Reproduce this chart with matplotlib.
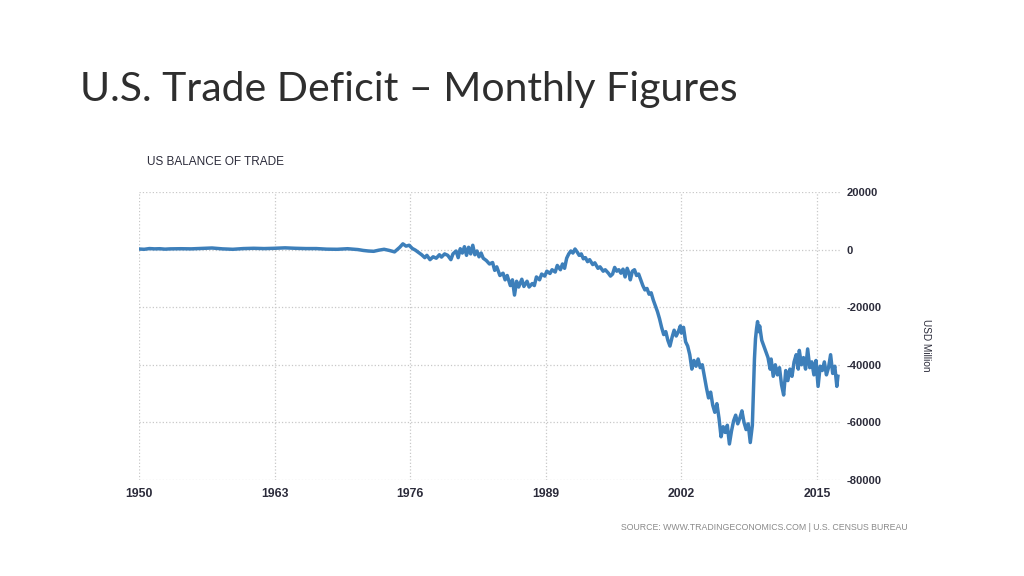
import numpy as np
import matplotlib.pyplot as plt

plt.rcParams['axes.unicode_minus'] = False

# US balance of trade, monthly, USD million
years = [1950.0, 1950.5, 1951.0, 1951.5, 1952.0, 1952.5, 1953.0, 1954.0, 1955.0, 1956.0,
         1957.0, 1957.5, 1958.0, 1959.0, 1960.0, 1961.0, 1962.0, 1963.0, 1964.0, 1965.0,
         1966.0, 1967.0, 1968.0, 1969.0, 1970.0, 1971.0, 1971.5, 1972.0, 1972.5, 1973.0,
         1973.5, 1974.0, 1974.5, 1975.0, 1975.3, 1975.6, 1975.9, 1976.2, 1976.5, 1976.8,
         1977.1, 1977.4, 1977.6, 1977.9, 1978.2, 1978.5, 1978.8, 1979.0, 1979.3, 1979.6,
         1979.9, 1980.1, 1980.4, 1980.6, 1980.8, 1981.0, 1981.2, 1981.4, 1981.6, 1981.8,
         1982.0, 1982.2, 1982.4, 1982.6, 1982.8, 1983.0, 1983.3, 1983.6, 1983.9, 1984.1,
         1984.3, 1984.6, 1984.9, 1985.1, 1985.3, 1985.6, 1985.8, 1986.0, 1986.2, 1986.4,
         1986.7, 1986.9, 1987.2, 1987.4, 1987.7, 1987.9, 1988.1, 1988.4, 1988.6, 1988.9,
         1989.1, 1989.4, 1989.6, 1989.9, 1990.1, 1990.4, 1990.6, 1990.8, 1991.0, 1991.2,
         1991.4, 1991.6, 1991.8, 1992.0, 1992.2, 1992.4, 1992.6, 1992.8, 1993.0, 1993.2,
         1993.5, 1993.7, 1994.0, 1994.2, 1994.5, 1994.7, 1995.0, 1995.2, 1995.4, 1995.6,
         1995.8, 1996.0, 1996.2, 1996.4, 1996.6, 1996.8, 1997.0, 1997.1, 1997.3, 1997.5,
         1997.7, 1997.9, 1998.1, 1998.3, 1998.5, 1998.7, 1998.9, 1999.1, 1999.3, 1999.5,
         1999.7, 1999.9, 2000.1, 2000.3, 2000.5, 2000.7, 2000.9, 2001.1, 2001.3, 2001.5,
         2001.7, 2001.9, 2002.0, 2002.2, 2002.4, 2002.6, 2002.8, 2003.0, 2003.2, 2003.4,
         2003.6, 2003.8, 2004.0, 2004.2, 2004.4, 2004.6, 2004.8, 2005.0, 2005.2, 2005.4,
         2005.6, 2005.8, 2006.0, 2006.2, 2006.4, 2006.6, 2006.8, 2007.0, 2007.2, 2007.4,
         2007.6, 2007.8, 2008.0, 2008.2, 2008.4, 2008.6, 2008.8, 2008.9, 2009.0, 2009.1,
         2009.2, 2009.3, 2009.4, 2009.5, 2009.7, 2009.9, 2010.1, 2010.3, 2010.5, 2010.6,
         2010.8, 2011.0, 2011.2, 2011.4, 2011.6, 2011.8, 2012.0, 2012.2, 2012.4, 2012.6,
         2012.8, 2013.0, 2013.2, 2013.3, 2013.5, 2013.7, 2013.9, 2014.1, 2014.3, 2014.5,
         2014.7, 2014.9, 2015.1, 2015.3, 2015.5, 2015.7, 2015.9, 2016.1, 2016.3, 2016.5,
         2016.7, 2016.9, 2017.0]
balance = [200, 100, 350, 250, 300, 150, 250, 300, 250, 400,
           550, 400, 250, 100, 350, 450, 350, 450, 600, 450,
           350, 350, 150, 100, 300, 0, -300, -500, -600, -200,
           100, -300, -800, 800, 2000, 1200, 1500, 400, -200, -1000,
           -1800, -2800, -2000, -3500, -2500, -3000, -1800, -2600, -1500, -2000,
           -3500, -1500, -500, -2800, 300, -1200, 1000, -2000, 800, -1500,
           1500, -1800, -500, -2500, -1200, -3000, -3800, -5000, -4500, -7200,
           -6000, -9000, -8200, -10500, -9000, -12500, -10500, -15800, -11000, -13000,
           -10300, -12800, -11000, -13000, -11800, -12500, -9500, -10500, -8500, -9200,
           -7500, -8300, -7000, -7800, -5500, -7000, -5000, -6500, -3000, -1500,
           -500, -1200, 200, -800, -2000, -1500, -3200, -2800, -4200, -3500,
           -5200, -4600, -6500, -6000, -7500, -7000, -8200, -9200, -8500, -6200,
           -7500, -7000, -8200, -6800, -9500, -6500, -8500, -10500, -7500, -7000,
           -9000, -8500, -10500, -12500, -14000, -13500, -15500, -15000, -17500, -19500,
           -21500, -24000, -27000, -29500, -28500, -31500, -33500, -30500, -28000, -30000,
           -28500, -26500, -29000, -27000, -32000, -33500, -36500, -41500, -38500, -40500,
           -38000, -41000, -40000, -44000, -48000, -51500, -49500, -54000, -56500, -53500,
           -58500, -65000, -61500, -63500, -61000, -67500, -63000, -59500, -57500, -60500,
           -58500, -56000, -60000, -62500, -60500, -67000, -61000, -50000, -38000, -31000,
           -27500, -25000, -28500, -26500, -31500, -33500, -35500, -37500, -41500, -38000,
           -44000, -40000, -43500, -41000, -47000, -50500, -42000, -45500, -41500, -44000,
           -39000, -36500, -41500, -35000, -40000, -37500, -41500, -34500, -41000, -39000,
           -43500, -38500, -47500, -40500, -42000, -39000, -43500, -41000, -36500, -43000,
           -40500, -47500, -44000]

xticks = [1950, 1963, 1976, 1989, 2002, 2015]
yticks = [20000, 0, -20000, -40000, -60000, -80000]

fig = plt.figure(figsize=(10.24, 5.76), dpi=100)
fig.patch.set_facecolor('white')

# slide title
fig.text(0.078, 0.845, "U.S. Trade Deficit \u2013 Monthly Figures", fontsize=29.5,
         family='Lato', weight='normal', color='#2e2e2e', va='center')

ax = fig.add_axes([0.1357, 0.1667, 0.6846, 0.5])
ax.plot(years, balance, color='#3d7fba', linewidth=2.5, solid_joinstyle='round')

ax.set_xlim(1950, 2017.2)
ax.set_ylim(-80000, 20000)
ax.set_xticks(xticks)
ax.set_yticks(yticks)
ax.yaxis.tick_right()
ax.grid(True, color='#c8c8c8', linestyle=':', linewidth=0.9)
for s in ax.spines.values():
    s.set_visible(False)
ax.tick_params(axis='both', length=0, labelsize=8, labelcolor='#2b2b3a')
ax.tick_params(axis='x', labelsize=8.8, pad=6)
ax.tick_params(axis='y', pad=5)
for lab in ax.get_xticklabels() + ax.get_yticklabels():
    lab.set_family('Liberation Sans')
    lab.set_weight('bold')

fig.text(0.1436, 0.718, "US BALANCE OF TRADE", fontsize=8.5, family='Liberation Sans',
         color='#2b2b3a', va='center')
fig.text(0.904, 0.40, "USD Million", fontsize=7.2, family='Liberation Sans',
         color='#2b2b3a', rotation=270, ha='center', va='center')
fig.text(0.886, 0.085, "SOURCE: WWW.TRADINGECONOMICS.COM | U.S. CENSUS BUREAU",
         fontsize=6.3, family='Liberation Sans', color='#8a8a8a', ha='right', va='center')

plt.savefig("out.png", dpi=100)
